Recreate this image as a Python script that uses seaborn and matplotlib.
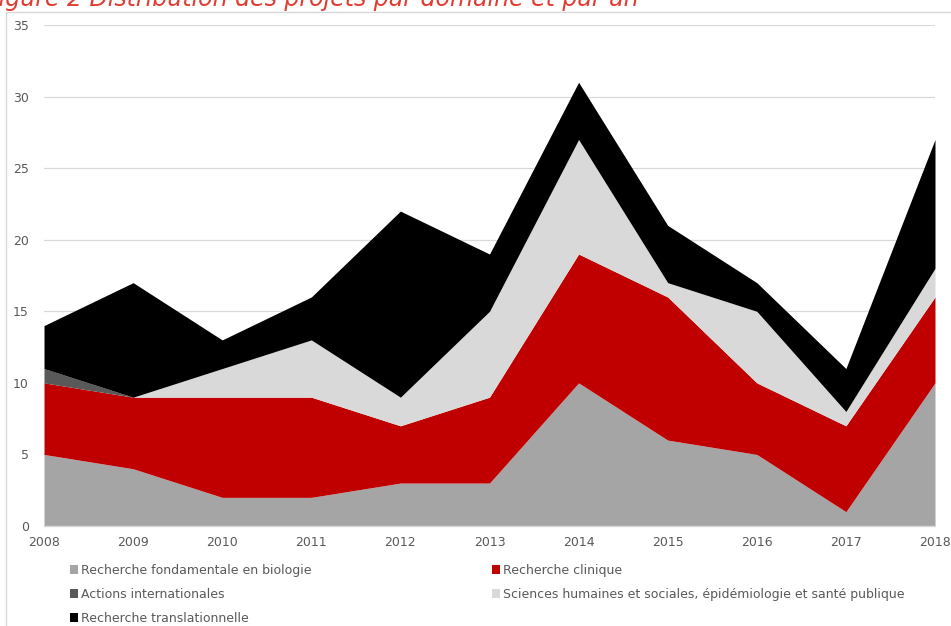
import matplotlib
matplotlib.use("Agg")
import matplotlib.pyplot as plt
import seaborn as sns
from matplotlib.patches import Patch
from matplotlib.lines import Line2D

years = [2008, 2009, 2010, 2011, 2012, 2013, 2014, 2015, 2016, 2017, 2018]
fondamentale = [5, 4, 2, 2, 3, 3, 10, 6, 5, 1, 10]
clinique = [5, 5, 7, 7, 4, 6, 9, 10, 5, 6, 6]
internationales = [1, 0, 0, 0, 0, 0, 0, 0, 0, 0, 0]
sciences_humaines = [0, 0, 2, 4, 2, 6, 8, 1, 5, 1, 2]
translationnelle = [3, 8, 2, 3, 13, 4, 4, 4, 2, 3, 9]

labels = [
    "Recherche fondamentale en biologie",
    "Recherche clinique",
    "Actions internationales",
    "Sciences humaines et sociales, épidémiologie et santé publique",
    "Recherche translationnelle",
]
colors = ["#A5A5A5", "#C00000", "#595959", "#D9D9D9", "#000000"]
y_ticks = [0, 5, 10, 15, 20, 25, 30, 35]

sns.set_theme(style="white")
plt.rcParams["font.family"] = ["DejaVu Sans"]
text_color = "#595959"

fig = plt.figure(figsize=(9.51, 6.26), dpi=100)
ax = fig.add_axes([44 / 951, 100 / 626, 891 / 951, 501 / 626])

ax.stackplot(years, fondamentale, clinique, internationales,
             sciences_humaines, translationnelle,
             colors=colors, labels=labels, linewidth=0)

ax.set_xlim(years[0], years[-1])
ax.set_ylim(0, 35)
ax.set_xticks(years)
ax.set_xticklabels([str(y) for y in years])
ax.set_yticks(y_ticks)
ax.yaxis.grid(True, color="#D9D9D9", linewidth=0.9)
ax.set_axisbelow(True)
for side in ["top", "right", "left"]:
    ax.spines[side].set_visible(False)
ax.spines["bottom"].set_color("#D9D9D9")
ax.spines["bottom"].set_linewidth(1.0)
ax.tick_params(axis="both", length=0, labelsize=9, colors=text_color)
ax.tick_params(axis="x", pad=7)
ax.tick_params(axis="y", pad=11)

# chart frame
fig.add_artist(Line2D([6 / 951, 6 / 951], [0, 614 / 626], color="#D9D9D9", lw=1, transform=fig.transFigure))
fig.add_artist(Line2D([6 / 951, 1], [614 / 626, 614 / 626], color="#D9D9D9", lw=1, transform=fig.transFigure))

fig.text(-0.016, 620 / 626, "Figure 2 Distribution des projets par domaine et par an",
         color="#E03C31", fontsize=17, style="italic", ha="left", va="baseline")

def handle(c):
    return Patch(facecolor=c, edgecolor="none")

col1 = [0, 2, 4]
col2 = [1, 3]
leg_kw = dict(frameon=False, fontsize=9, labelcolor=text_color, handlelength=0.65,
              handleheight=0.65, handletextpad=0.2, labelspacing=0.88, borderpad=0,
              borderaxespad=0)
leg1 = fig.legend([handle(colors[i]) for i in col1], [labels[i] for i in col1],
                  loc="upper left", bbox_to_anchor=(70 / 951, 1 - 564 / 626), **leg_kw)
leg2 = fig.legend([handle(colors[i]) for i in col2], [labels[i] for i in col2],
                  loc="upper left", bbox_to_anchor=(492 / 951, 1 - 564 / 626), **leg_kw)

fig.savefig("out.png", dpi=100)
